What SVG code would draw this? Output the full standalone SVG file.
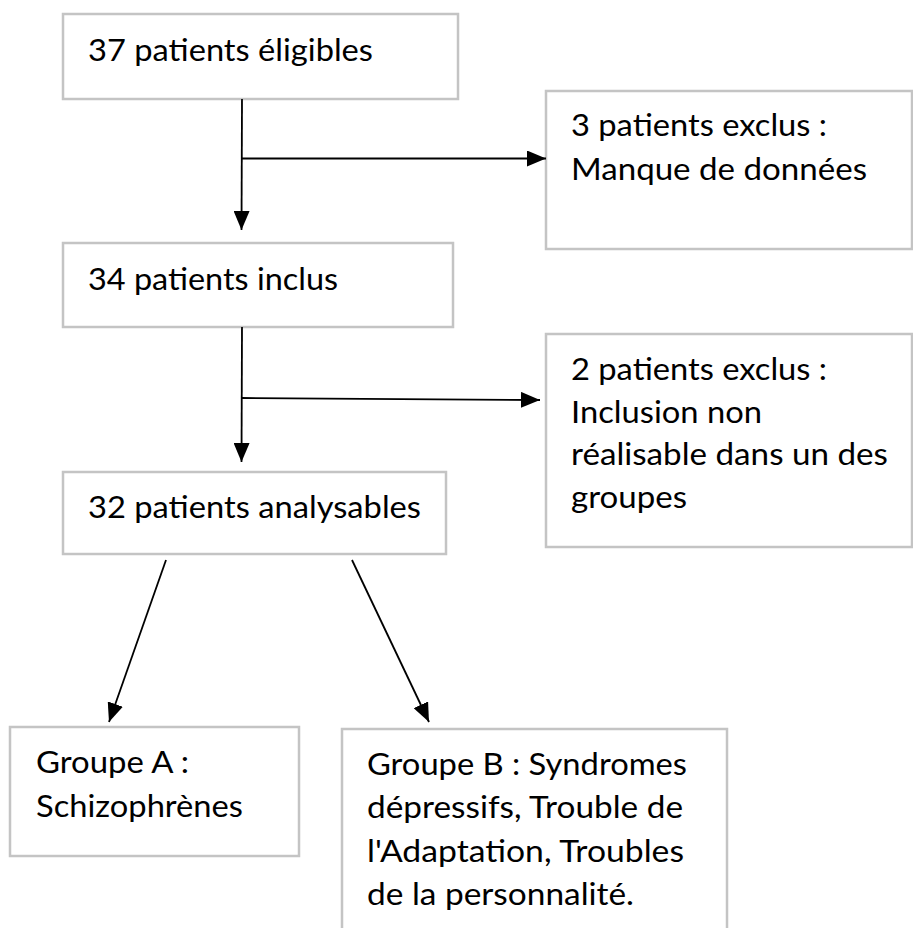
<svg xmlns="http://www.w3.org/2000/svg" width="913" height="928" viewBox="0 0 913 928">
<style>
.box{fill:#fff;stroke:#c4c4c4;stroke-width:2.5}
.t{font-family:Lato,"Liberation Sans",sans-serif;font-size:31.5px;fill:#000}
.c{stroke:#000;stroke-width:1.8;fill:none;marker-end:url(#ah)}
</style>
<defs>
<marker id="ah" viewBox="0 0 19 16" markerWidth="19" markerHeight="16" refX="19" refY="8" orient="auto" markerUnits="userSpaceOnUse">
<path d="M0,0 L19,8 L0,16 z" fill="#000"/>
</marker>
</defs>
<rect width="913" height="928" fill="#fff"/>
<g id="n1"><rect class="box" x="63" y="14" width="395" height="85"/>
<text class="t" x="88" y="61" textLength="285" lengthAdjust="spacingAndGlyphs">37 patients éligibles</text></g>
<g id="n2"><rect class="box" x="546" y="91" width="366" height="158"/>
<text class="t" x="571" y="136" textLength="256" lengthAdjust="spacingAndGlyphs">3 patients exclus :</text>
<text class="t" x="571" y="180" textLength="296" lengthAdjust="spacingAndGlyphs">Manque de données</text></g>
<g id="n3"><rect class="box" x="63" y="243" width="390" height="84"/>
<text class="t" x="88" y="290" textLength="250" lengthAdjust="spacingAndGlyphs">34 patients inclus</text></g>
<g id="n4"><rect class="box" x="546" y="334" width="366" height="213"/>
<text class="t" x="571" y="380" textLength="256" lengthAdjust="spacingAndGlyphs">2 patients exclus :</text>
<text class="t" x="571" y="423" textLength="191" lengthAdjust="spacingAndGlyphs">Inclusion non</text>
<text class="t" x="571" y="465" textLength="317" lengthAdjust="spacingAndGlyphs">réalisable dans un des</text>
<text class="t" x="571" y="508" textLength="116" lengthAdjust="spacingAndGlyphs">groupes</text></g>
<g id="n5"><rect class="box" x="63" y="472" width="383" height="82"/>
<text class="t" x="88" y="518" textLength="333" lengthAdjust="spacingAndGlyphs">32 patients analysables</text></g>
<g id="n6"><rect class="box" x="10" y="727" width="289" height="129"/>
<text class="t" x="36" y="773" textLength="153" lengthAdjust="spacingAndGlyphs">Groupe A :</text>
<text class="t" x="36" y="817" textLength="207" lengthAdjust="spacingAndGlyphs">Schizophrènes</text></g>
<g id="n7"><rect class="box" x="342" y="729" width="385" height="215"/>
<text class="t" x="367" y="775" textLength="320" lengthAdjust="spacingAndGlyphs">Groupe B : Syndromes</text>
<text class="t" x="367" y="818" textLength="316" lengthAdjust="spacingAndGlyphs">dépressifs, Trouble de</text>
<text class="t" x="367" y="862" textLength="317" lengthAdjust="spacingAndGlyphs">l'Adaptation, Troubles</text>
<text class="t" x="367" y="905" textLength="267" lengthAdjust="spacingAndGlyphs">de la personnalité.</text></g>
<g id="connectors">
<line class="c" x1="242" y1="99" x2="241.5" y2="230"/>
<line class="c" x1="242" y1="158.5" x2="546" y2="158.5"/>
<line class="c" x1="242" y1="327" x2="241.5" y2="462"/>
<line class="c" x1="242" y1="398" x2="540" y2="400"/>
<line class="c" x1="166" y1="560" x2="109" y2="722"/>
<line class="c" x1="352" y1="560" x2="429" y2="722"/>
</g>
</svg>
